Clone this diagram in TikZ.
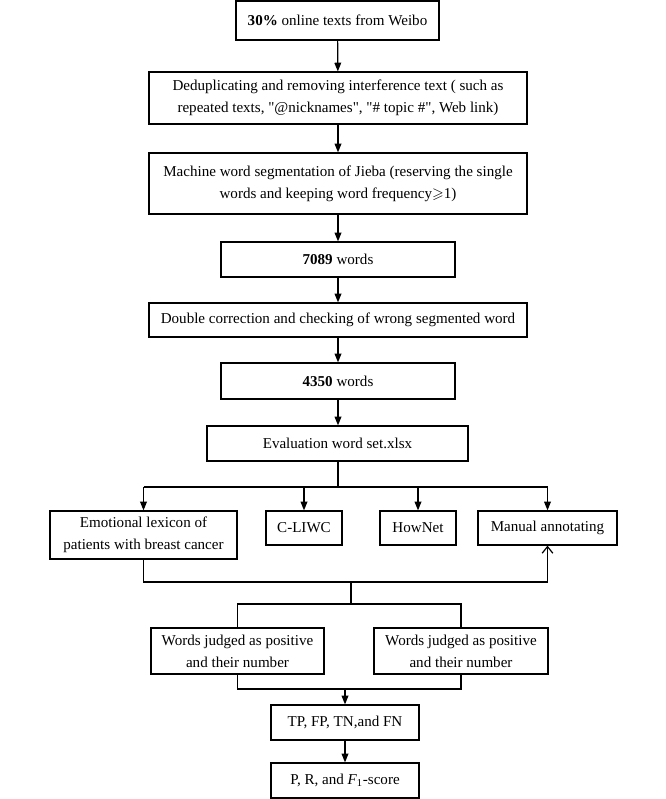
\documentclass[tikz,border=0pt]{standalone}
\usepackage{fontspec}
\usepackage{amssymb}
\setmainfont{Liberation Serif}[Ligatures=TeXOff]
\usetikzlibrary{arrows.meta}
\begin{document}
\begin{tikzpicture}[x=0.75pt,y=-0.75pt,
  box/.style={draw,line width=0.9pt,inner sep=0pt,align=center,
    font=\fontsize{11.3}{16.5}\selectfont},
  wh/.style 2 args={minimum width=#1*0.75pt,minimum height=#2*0.75pt},
  ln/.style={line width=0.9pt},
  arr/.style={line width=0.9pt,-{Triangle[length=6.5pt,width=5pt]}},
  openarr/.style={line width=0.9pt,-{Straight Barb[length=5pt,width=8pt]}}]
\useasboundingbox (0,0) rectangle (666,799);
\node[box,wh={203}{39}] (b1) at (337.5,20.5) {\textbf{30\%} online texts from Weibo};
\node[box,wh={378}{52}] (b2) at (338,98) {Deduplicating and removing interference text ( such as\\repeated texts, "@nicknames", "\# topic \#", Web link)};
\node[box,wh={378}{61}] (b3) at (338,183.5) {Machine word segmentation of Jieba (reserving the single\\words and keeping word frequency$\geqslant$1)};
\node[box,wh={234}{35}] (b4) at (338,259.5) {\textbf{7089} words};
\node[box,wh={378}{34}] (b5) at (338,320) {Double correction and checking of wrong segmented word};
\node[box,wh={234}{36}] (b6) at (338,381) {\textbf{4350} words};
\node[box,wh={261}{35}] (b7) at (337.5,443.5) {Evaluation word set.xlsx};
\node[box,wh={187}{48}] (e1) at (143.5,535) {Emotional lexicon of\\patients with breast cancer};
\node[box,wh={76}{34}] (e2) at (304,528) {C-LIWC};
\node[box,wh={76}{34}] (e3) at (418,528) {HowNet};
\node[box,wh={139}{34}] (e4) at (547.5,528) {Manual annotating};
\node[box,wh={173}{46}] (w1) at (237.5,651) {Words judged as positive\\and their number};
\node[box,wh={174}{46}] (w2) at (461,651) {Words judged as positive\\and their number};
\node[box,wh={148}{35}] (t1) at (345,722.5) {TP, FP, TN,and FN};
\node[box,wh={148}{35}] (t2) at (345,780.5) {P, R, and \textit{F}\textsubscript{1}-score};
\coordinate (br) at (338,487);
\coordinate (j1) at (351,582);
\coordinate (j2) at (351,604);
\coordinate (j3) at (345,689);
\draw[arr] (b1) -- (b2);
\draw[arr] (b2) -- (b3);
\draw[arr] (b3) -- (b4);
\draw[arr] (b4) -- (b5);
\draw[arr] (b5) -- (b6);
\draw[arr] (b6) -- (b7.north -| b6);
\draw[ln] (b7.south -| br) -- (br);
\draw[ln] (e1.north |- br) -- (e4.north |- br);
\draw[arr] (e1.north |- br) -- (e1.north);
\draw[arr] (e2.north |- br) -- (e2.north);
\draw[arr] (e3.north |- br) -- (e3.north);
\draw[arr] (e4.north |- br) -- (e4.north);
\draw[openarr] (e1.south) |- (j1) -| (e4.south);
\draw[ln] (j1) -- (j2);
\draw[ln] (w1.north) |- (j2) -| (w2.north);
\draw[ln] (w1.south) |- (j3) -| (w2.south);
\draw[arr] (j3) -- (t1.north);
\draw[arr] (t1) -- (t2);
\end{tikzpicture}
\end{document}
